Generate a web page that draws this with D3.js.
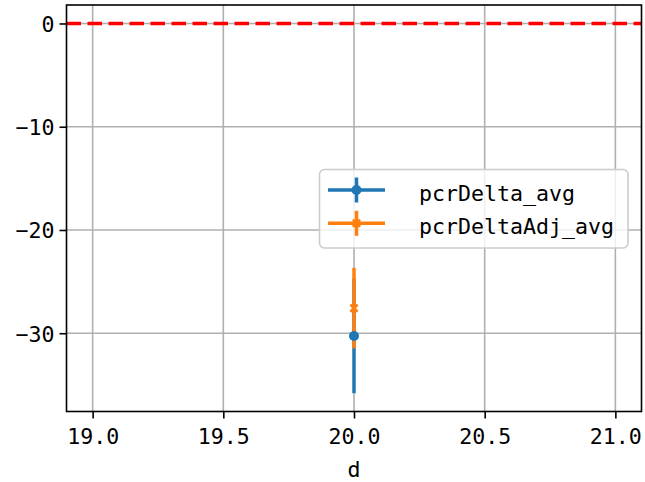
<!DOCTYPE html>
<html><head><meta charset="utf-8">
<script src="https://cdn.jsdelivr.net/npm/d3@7"></script>
<style>body{margin:0;background:#fff;} text{font-family:"DejaVu Sans Mono",monospace;}</style>
</head><body>
<script>
const xVals = [20.0];
const seriesNames = ["pcrDelta_avg", "pcrDeltaAdj_avg"];
const seriesMeans = [-30.26, -27.57];
const seriesErrs = [5.55, 3.9];
const seriesColors = ["#1f77b4", "#ff7f0e"];
const xTicks = [19.0, 19.5, 20.0, 20.5, 21.0];
const yTicks = [0, -10, -20, -30];
const refLine = 0;

const W = 645, H = 482;
const L = 66.5, R = 641.5, T = 5, B = 411.5;
const svg = d3.select("body").append("svg").attr("width", W).attr("height", H);
const x = d3.scaleLinear().domain([18.9, 21.1]).range([L, R]);
const y = d3.scaleLinear().domain([-37.58, 1.79]).range([B, T]);
const fs = 21.6;

// grid
const g = svg.append("g");
g.selectAll(".gx").data(xTicks).enter().append("line")
  .attr("x1", d => x(d)).attr("x2", d => x(d)).attr("y1", T).attr("y2", B)
  .attr("stroke", "#b0b0b0").attr("stroke-width", 1.6);
g.selectAll(".gy").data(yTicks).enter().append("line")
  .attr("y1", d => y(d)).attr("y2", d => y(d)).attr("x1", L).attr("x2", R)
  .attr("stroke", "#b0b0b0").attr("stroke-width", 1.6);

// reference line
svg.append("line").attr("x1", L).attr("x2", R).attr("y1", y(refLine)).attr("y2", y(refLine))
  .attr("stroke", "#ff0000").attr("stroke-width", 3.5).attr("stroke-dasharray", "14.5,6.5");

// error bars
const data = seriesNames.map((n, i) => ({name: n, x: xVals[0], m: seriesMeans[i], e: seriesErrs[i], c: seriesColors[i]}));
svg.selectAll(".eb").data(data).enter().append("line")
  .attr("x1", d => x(d.x)).attr("x2", d => x(d.x))
  .attr("y1", d => y(d.m - d.e)).attr("y2", d => y(d.m + d.e))
  .attr("stroke", d => d.c).attr("stroke-width", 3.5);

function marker(sel, d, cx, cy) {
  if (d.name === seriesNames[0]) {
    sel.append("circle").attr("cx", cx).attr("cy", cy).attr("r", 5).attr("fill", d.c);
  } else {
    const s = 3.6;
    sel.append("path").attr("d", `M${cx-s},${cy-s}L${cx+s},${cy+s}M${cx-s},${cy+s}L${cx+s},${cy-s}`)
      .attr("stroke", d.c).attr("stroke-width", 2.6).attr("fill", "none");
  }
}
data.forEach(d => marker(svg, d, x(d.x), y(d.m)));

// spines
svg.append("rect").attr("x", L).attr("y", T).attr("width", R - L).attr("height", B - T)
  .attr("fill", "none").attr("stroke", "#000").attr("stroke-width", 1.6);

// axes ticks
const xa = svg.append("g").attr("transform", `translate(0,${B})`)
  .call(d3.axisBottom(x).tickValues(xTicks).tickFormat(d3.format(".1f")).tickSize(7).tickPadding(5));
const ya = svg.append("g").attr("transform", `translate(${L},0)`)
  .call(d3.axisLeft(y).tickValues(yTicks).tickFormat(d => d < 0 ? "\u2212" + Math.abs(d) : String(d)).tickSize(7).tickPadding(5));
[xa, ya].forEach(a => {
  a.select(".domain").remove();
  a.selectAll(".tick line").attr("stroke", "#000").attr("stroke-width", 1.6);
  a.selectAll(".tick text").attr("font-size", fs).attr("fill", "#000").attr("font-family", '"DejaVu Sans Mono",monospace');
});
xa.selectAll(".tick text").attr("dy", "0.95em");
ya.selectAll(".tick text").attr("dy", "0.36em");

// x label
svg.append("text").attr("x", (L + R) / 2).attr("y", 477).attr("text-anchor", "middle")
  .attr("font-size", fs).text("d");

// legend
const lg = svg.append("g");
lg.append("rect").attr("x", 319.5).attr("y", 169.5).attr("width", 308.5).attr("height", 78.5)
  .attr("rx", 5).attr("fill", "#fff").attr("fill-opacity", 0.8).attr("stroke", "#cccccc").attr("stroke-width", 1.6);
data.forEach((d, i) => {
  const cy = 190 + i * 33.3;
  lg.append("line").attr("x1", 328).attr("x2", 385).attr("y1", cy).attr("y2", cy).attr("stroke", d.c).attr("stroke-width", 3.5);
  lg.append("line").attr("x1", 356.5).attr("x2", 356.5).attr("y1", cy - 12.5).attr("y2", cy + 12.5).attr("stroke", d.c).attr("stroke-width", 3.5);
  marker(lg, d, 356.5, cy);
  lg.append("text").attr("x", 419).attr("y", cy + 11).attr("font-size", fs).attr("fill", "#000").text(d.name);
});
</script>
</body></html>
